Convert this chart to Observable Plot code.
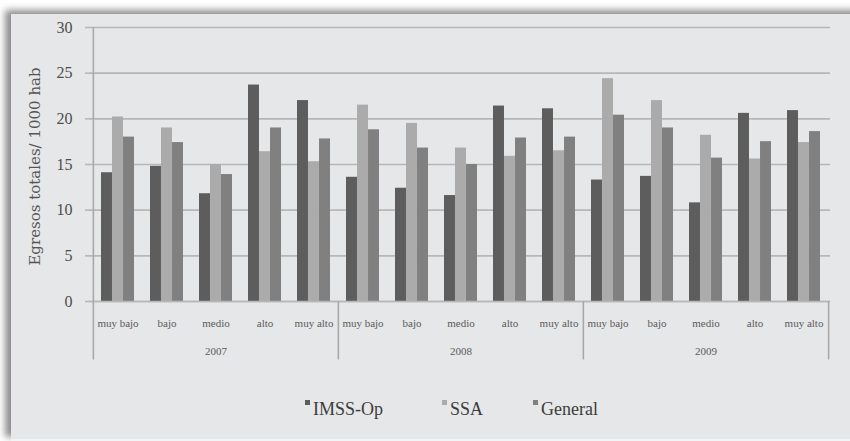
<!DOCTYPE html>
<html>
<head>
<meta charset="utf-8">
<script src="https://cdn.jsdelivr.net/npm/d3@7"></script>
<script src="https://cdn.jsdelivr.net/npm/@observablehq/plot@0.6"></script>
<style>
  html, body { margin: 0; padding: 0; background: #ffffff; overflow: hidden; }
  #panel {
    position: absolute; left: 11px; top: 14px; right: -20px; height: 425px;
    background: #e6e7e8;
    box-shadow: -6px -4px 7px rgba(0,0,0,0.45);
    border-bottom: 2px solid #f4f4f4;
  }
  #chart { position: absolute; left: 0; top: 0; }
  .legend-item {
    position: absolute; top: 398px;
    font-family: "Liberation Serif", "DejaVu Serif", serif; font-size: 18px; color: #3c3c3c;
    white-space: nowrap; line-height: 22px;
  }
  .legend-item .sw { display: inline-block; width: 5px; height: 5px; margin-right: 3px; vertical-align: 10px; }
</style>
</head>
<body>
<div id="panel"></div>
<div id="chart"></div>
<div id="legend"></div>
<script>
// Hospital discharges per 1000 inhabitants, by marginalization level and year
const years = ["2007", "2008", "2009"];
const levels = ["muy bajo", "bajo", "medio", "alto", "muy alto"];
const seriesNames = ["IMSS-Op", "SSA", "General"];
const imssOp  = [14.1, 14.8, 11.8, 23.7, 22.0,  13.6, 12.4, 11.6, 21.4, 21.1,  13.3, 13.7, 10.8, 20.6, 20.9];
const ssa     = [20.2, 19.0, 15.0, 16.4, 15.3,  21.5, 19.5, 16.8, 15.9, 16.5,  24.4, 22.0, 18.2, 15.6, 17.4];
const general = [18.0, 17.4, 13.9, 19.0, 17.8,  18.8, 16.8, 15.0, 17.9, 18.0,  20.4, 19.0, 15.7, 17.5, 18.6];
const yTicks = [0, 5, 10, 15, 20, 25, 30];

const seriesValues = [imssOp, ssa, general];
const seriesColors = ["#5d5d5d", "#ababab", "#808080"];

// one row per (year, level) group
const rows = [];
years.forEach((year, yi) => levels.forEach((level, li) => {
  const idx = yi * levels.length + li;
  rows.push({key: `${year}|${level}`, year, level, values: seriesValues.map(s => s[idx])});
}));
const keys = rows.map(d => d.key);

const width = 850, height = 380;
const marginLeft = 90, marginRight = 20, marginTop = 27, marginBottom = 79;
const padIn = 0.33, padOut = 0.17;
const step = (width - marginLeft - marginRight) / (keys.length - padIn + 2 * padOut);
const sub = step * (1 - padIn) / seriesNames.length;

const serif = "'Liberation Serif', 'DejaVu Serif', serif";

// separators: left edge of each year block, plus the right end
const sepLeft = years.map(y => ({key: `${y}|${levels[0]}`, top: y === years[0] ? 30 : 0}));
const sepRight = [{key: `${years[years.length - 1]}|${levels[levels.length - 1]}`}];

const plot = Plot.plot({
  width, height, marginLeft, marginRight, marginTop, marginBottom,
  style: {background: "transparent", fontFamily: serif, overflow: "visible"},
  x: {domain: keys, type: "band", paddingInner: padIn, paddingOuter: padOut, axis: null},
  y: {domain: [0, 30], ticks: yTicks, label: null},
  marks: [
    Plot.gridY(yTicks, {stroke: "#b7b7b7", strokeOpacity: 1, strokeWidth: 1.6}),
    Plot.axisY(yTicks, {tickSize: 5, tickPadding: 13, stroke: "#b7b7b7", strokeWidth: 1.6,
      fontSize: 16, fill: "#4d4d4d", label: null}),
    Plot.text(["Egresos totales/ 1000 hab"], {frameAnchor: "left", textAnchor: "middle", rotate: -90,
      dx: -55, dy: 2, fontSize: 15, fill: "#555555", fontFamily: "'DejaVu Serif', serif"}),
    ...seriesNames.map((name, i) => Plot.barY(rows, {
      x: "key", y: d => d.values[i], fill: seriesColors[i],
      insetLeft: i * sub, insetRight: (seriesNames.length - 1 - i) * sub
    })),
    Plot.ruleY([0], {stroke: "#b7b7b7", strokeWidth: 1.6}),
    // category labels under each group
    Plot.text(rows, {x: "key", y: () => -2.4, text: "level", fontSize: 11, fill: "#5a5a5a"}),
    // year labels under the middle group of each year
    Plot.text(years.map(y => ({key: `${y}|${levels[2]}`, year: y})),
      {x: "key", y: () => -5.5, text: "year", fontSize: 11, fill: "#5a5a5a"}),
    Plot.ruleX(sepLeft, {x: "key", y1: -6.4, y2: "top", dx: -step / 2, stroke: "#a9a9a9", strokeWidth: 1.6}),
    Plot.ruleX(sepRight, {x: "key", y1: -6.4, y2: 0, dx: step / 2, stroke: "#a9a9a9", strokeWidth: 1.6})
  ]
});
document.getElementById("chart").appendChild(plot);

// legend below the plot
const legendX = [305, 442, 533];
const legend = document.getElementById("legend");
seriesNames.forEach((name, i) => {
  const item = document.createElement("div");
  item.className = "legend-item";
  item.style.left = legendX[i] + "px";
  const sw = document.createElement("span");
  sw.className = "sw";
  sw.style.background = seriesColors[i];
  item.appendChild(sw);
  item.appendChild(document.createTextNode(name));
  legend.appendChild(item);
});
</script>
</body>
</html>
